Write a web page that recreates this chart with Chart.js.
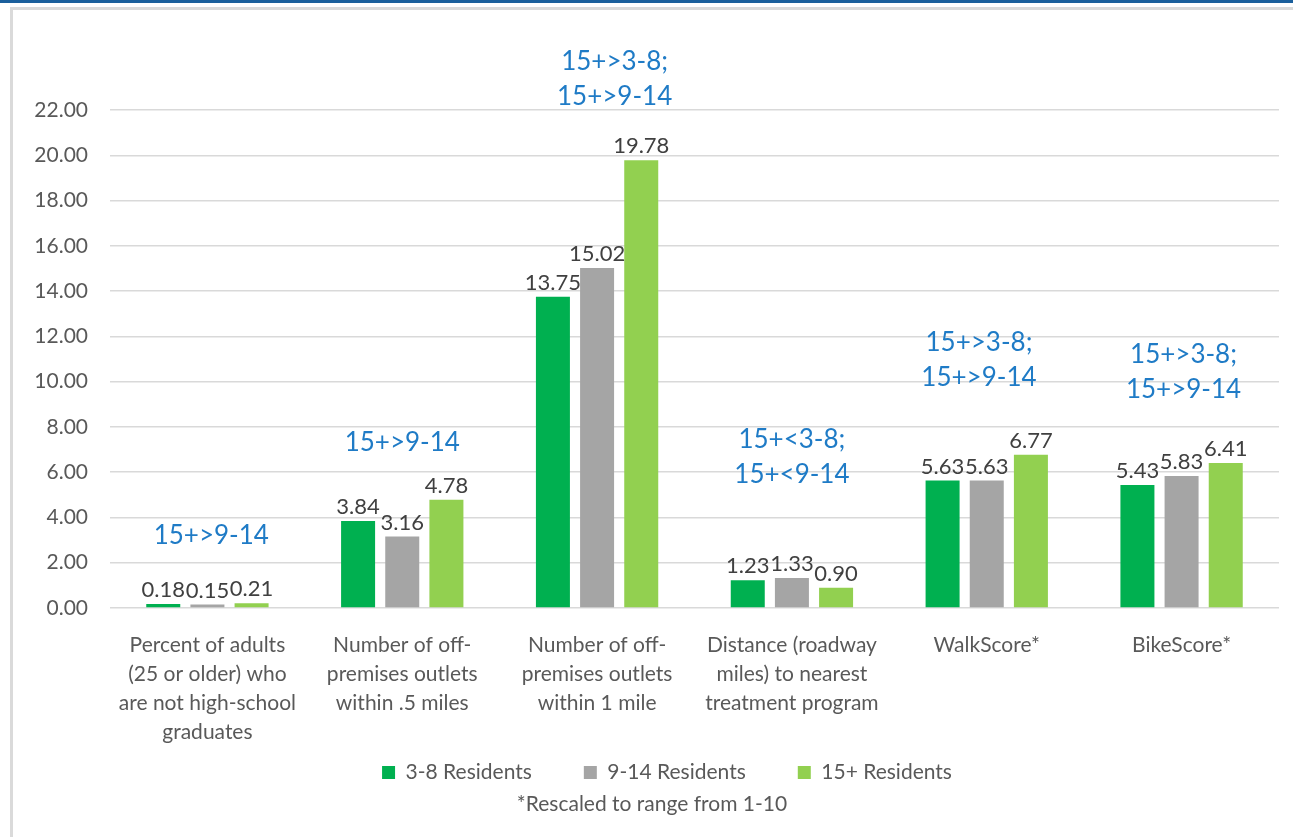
<!DOCTYPE html>
<html>
<head>
<meta charset="utf-8">
<script src="https://cdn.jsdelivr.net/npm/chart.js@4"></script>
<style>
  html, body { margin: 0; padding: 0; background: #ffffff; overflow: hidden; }
  body { width: 1293px; height: 837px; position: relative; }
  #topbar { position: absolute; left: 0; top: 0; width: 1293px; height: 3px; background: #1b5f9c; }
  #frame { position: absolute; left: 10px; top: 7px; width: 1400px; height: 900px; border: 3px solid #dadada; box-sizing: border-box; }
  #wrap { position: absolute; left: 0; top: 0; width: 1334px; height: 837px; }
  #note { position: absolute; left: 0; width: 1304px; top: 790px; text-align: center; font-family: Lato, sans-serif; font-size: 21px; color: #595959; }
</style>
</head>
<body>
<div id="topbar"></div>
<div id="frame"></div>
<div id="wrap"><canvas id="c"></canvas></div>
<div id="note">*Rescaled to range from 1-10</div>
<script>
// ---- data ----
const categories = [
  ["Percent of adults", "(25 or older) who", "are not high-school", "graduates"],
  ["Number of off-", "premises outlets", "within .5 miles"],
  ["Number of off-", "premises outlets", "within 1 mile"],
  ["Distance (roadway", "miles) to nearest", "treatment program"],
  ["WalkScore*"],
  ["BikeScore*"]
];
const seriesNames = ["3-8 Residents", "9-14 Residents", "15+ Residents"];
const residents3to8 = [0.18, 3.84, 13.75, 1.23, 5.63, 5.43];
const residents9to14 = [0.15, 3.16, 15.02, 1.33, 5.63, 5.83];
const residents15plus = [0.21, 4.78, 19.78, 0.90, 6.77, 6.41];
const yTicks = [0, 2, 4, 6, 8, 10, 12, 14, 16, 18, 20, 22];
const annotationText = [
  ["15+>9-14"],
  ["15+>9-14"],
  ["15+>3-8;", "15+>9-14"],
  ["15+<3-8;", "15+<9-14"],
  ["15+>3-8;", "15+>9-14"],
  ["15+>3-8;", "15+>9-14"]
];
// anchor of each annotation's first line, in chart units (category index, value)
const annotationCat = [0.02, 1.0, 2.09, 3.0, 3.96, 5.01];
const annotationVal = [3.22, 7.29, 24.12, 7.42, 11.71, 11.18];

const colors = ["#00B050", "#A5A5A5", "#92D050"];

Chart.defaults.font.family = "Lato, sans-serif";

const valueLabels = {
  id: 'valueLabels',
  afterDatasetsDraw(chart) {
    const ctx = chart.ctx;
    ctx.save();
    ctx.font = "22px Lato, sans-serif";
    ctx.fillStyle = "#404040";
    ctx.textAlign = "center";
    ctx.textBaseline = "bottom";
    chart.data.datasets.forEach((ds, di) => {
      const meta = chart.getDatasetMeta(di);
      meta.data.forEach((el, i) => {
        ctx.fillText(ds.data[i].toFixed(2), el.x, el.y - 3);
      });
    });
    ctx.restore();
  }
};

const annotations = {
  id: 'annotations',
  afterDatasetsDraw(chart) {
    const ctx = chart.ctx;
    const xs = chart.scales.x, ys = chart.scales.y;
    ctx.save();
    ctx.font = "26px Lato, sans-serif";
    ctx.fillStyle = "#1F7BC6";
    ctx.textAlign = "center";
    ctx.textBaseline = "middle";
    annotationText.forEach((lines, i) => {
      const x = xs.getPixelForValue(annotationCat[i]);
      const y0 = ys.getPixelForValue(annotationVal[i]);
      lines.forEach((t, k) => ctx.fillText(t, x, y0 + k * 35));
    });
    ctx.restore();
  }
};

// lift the legend row closer to the axis labels (wide item spacing otherwise pushes it down)
const legendLift = {
  id: 'legendLift',
  afterLayout(chart) {
    const lg = chart.legend;
    if (lg) { lg.top -= 38; lg.bottom -= 38; }
  }
};

new Chart(document.getElementById('c'), {
  type: 'bar',
  data: {
    labels: categories,
    datasets: [
      { label: seriesNames[0], data: residents3to8, backgroundColor: colors[0], yAxisID: 'y' },
      { label: seriesNames[1], data: residents9to14, backgroundColor: colors[1], yAxisID: 'y' },
      { label: seriesNames[2], data: residents15plus, backgroundColor: colors[2], yAxisID: 'y' }
    ]
  },
  options: {
    responsive: true,
    maintainAspectRatio: false,
    animation: false,
    datasets: { bar: { categoryPercentage: 0.68, barPercentage: 0.77 } },
    layout: { padding: { top: 110, left: 0, right: 0, bottom: 6 } },
    scales: {
      x: {
        grid: { display: false, drawTicks: false },
        border: { display: false },
        ticks: { color: "#595959", font: { size: 21, lineHeight: 1.38 }, padding: 23, maxRotation: 0, autoSkip: false },
        afterFit(scale) { scale.height = 140; }
      },
      y: {
        position: 'left',
        min: 0, max: 22,
        afterBuildTicks(scale) { scale.ticks = yTicks.map(v => ({ value: v })); },
        grid: { color: "#d9d9d9", lineWidth: 1.5, drawTicks: false },
        border: { display: false },
        ticks: { color: "#595959", font: { size: 21 }, padding: 22, callback: v => Number(v).toFixed(2) },
        afterFit(scale) { scale.width = 110; }
      },
      yRight: {
        type: 'linear',
        position: 'right',
        grid: { display: false, drawTicks: false },
        border: { display: false },
        ticks: { display: false },
        afterFit(scale) { scale.width = 55; }
      }
    },
    plugins: {
      legend: {
        position: 'bottom',
        labels: { color: "#595959", font: { size: 21 }, boxWidth: 13, boxHeight: 13, padding: 52 }
      },
      tooltip: { enabled: false },
      title: { display: false }
    }
  },
  plugins: [valueLabels, annotations, legendLift]
});
</script>
</body>
</html>
